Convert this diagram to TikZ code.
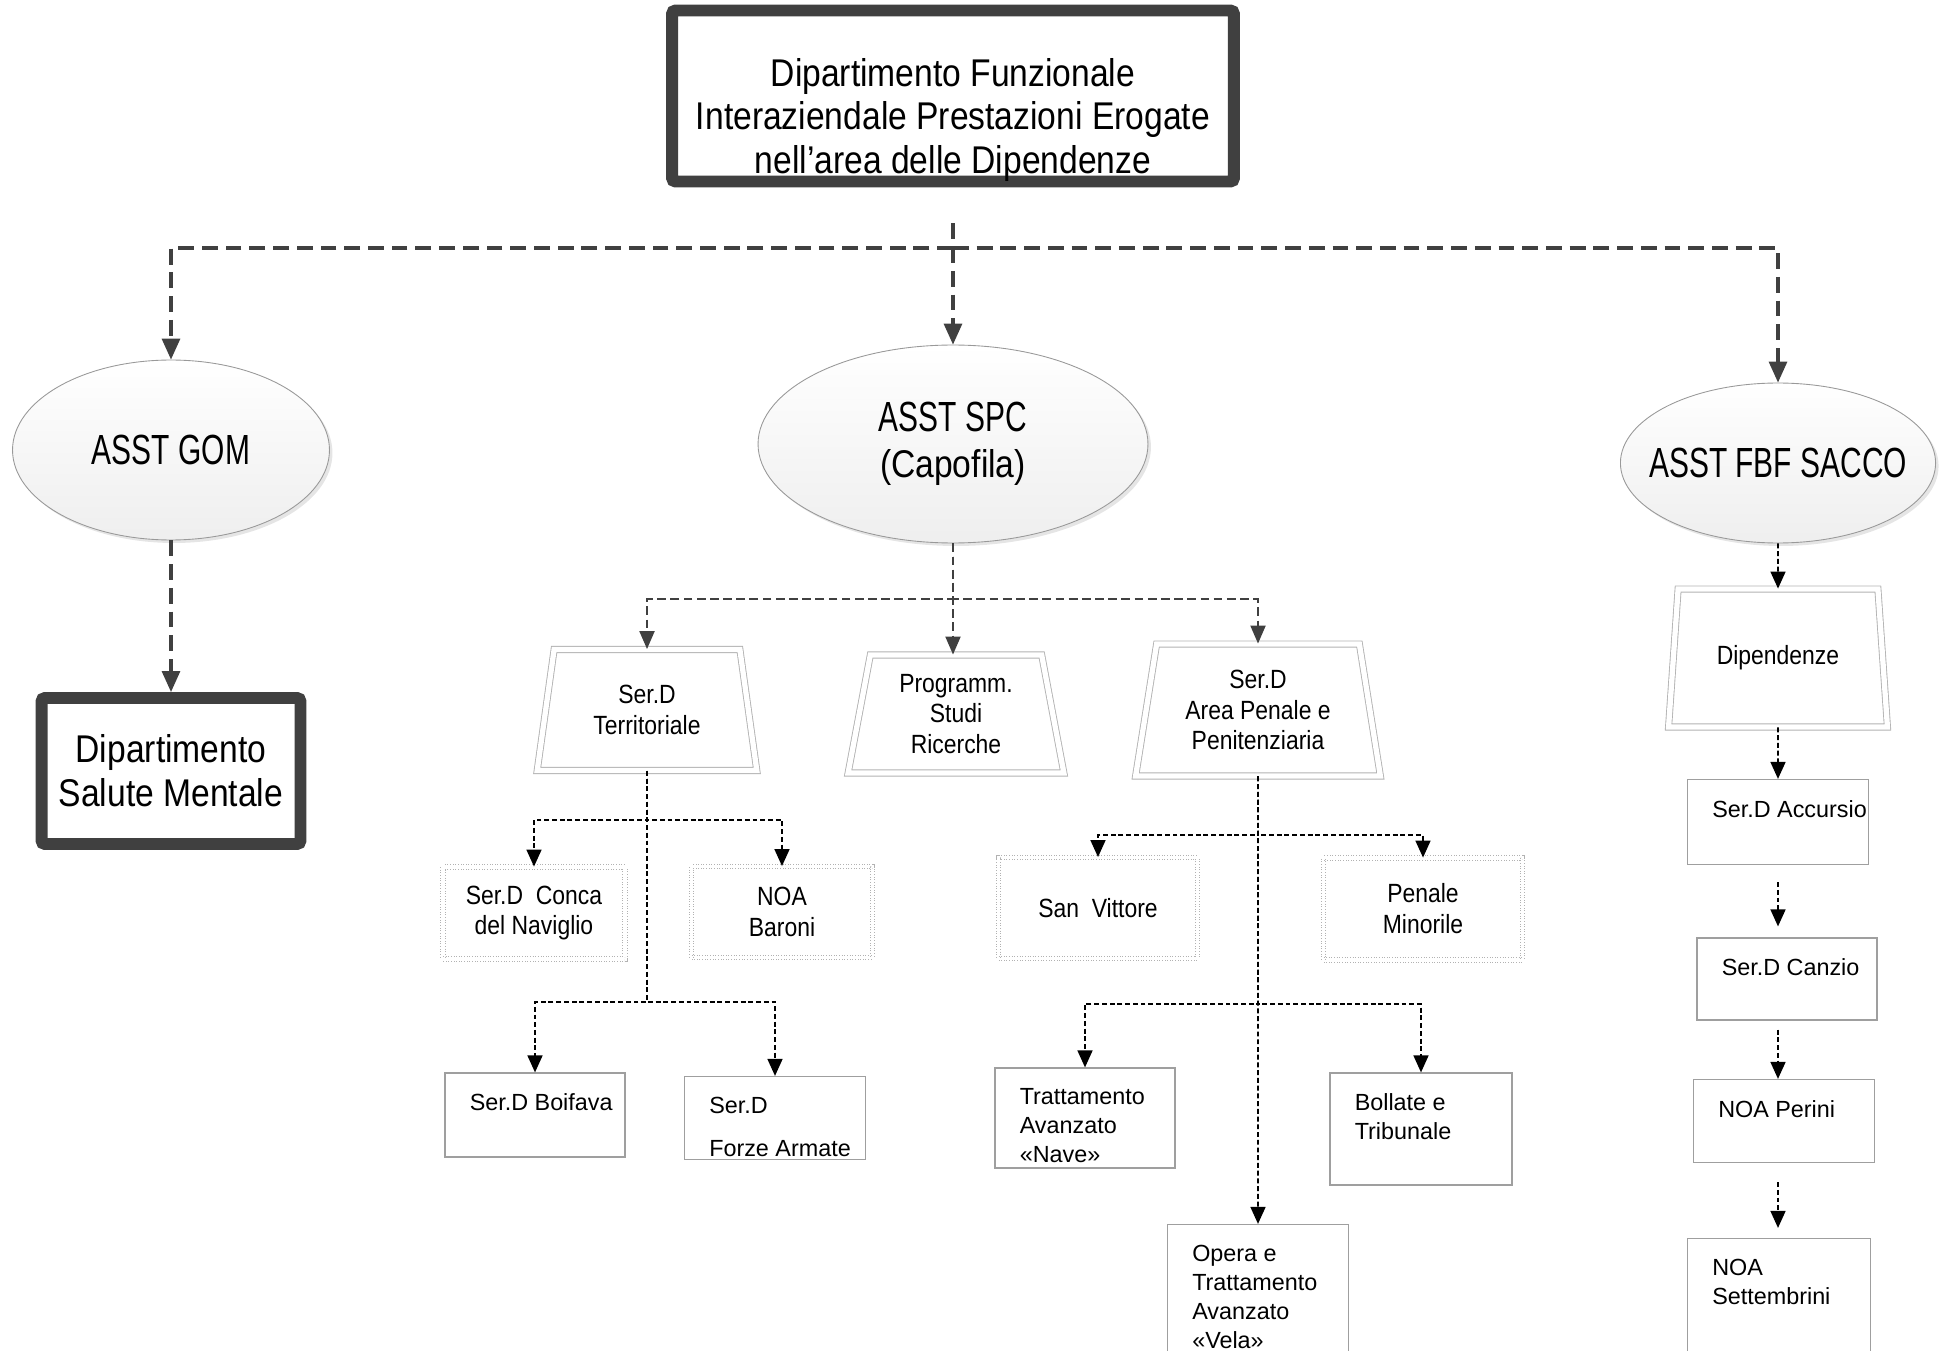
\documentclass[tikz,border=0pt]{standalone}
\usepackage{fontspec}
\setmainfont{Liberation Sans}
\newfontfamily\narrowsf{Liberation Sans}[FakeStretch=0.87]
\newfontfamily\squeezesf{Liberation Sans}[FakeStretch=0.71]
\usepackage{tikz}
\usetikzlibrary{shapes,shapes.geometric,arrows.meta,shadows}
\definecolor{edge}{rgb}{0.25, 0.25, 0.25}
\tikzstyle{headbox}=[draw=edge,line width=6.8pt,rounded corners=2pt,fill=white]
\tikzstyle{oval}=[ellipse,draw=gray!80,line width=0.5pt,top color=white,bottom color=gray!13,drop shadow={shadow xshift=0.06cm,shadow yshift=-0.06cm,fill=gray!40,opacity=0.5},font=\fontsize{24}{26}\squeezesf,align=center,inner sep=0pt]
\tikzstyle{trap}=[trapezium,trapezium left angle=80,trapezium right angle=80,trapezium stretches=true,draw=gray!60,line width=0.5pt,double=white,double distance=3pt,font=\fontsize{15}{17.6}\narrowsf,align=center]
\tikzstyle{dotbox}=[rectangle,draw=gray!60,densely dotted,line width=0.5pt,double=white,double distance=2pt,font=\fontsize{15}{17.6}\narrowsf,align=center]
\tikzstyle{leaf}=[rectangle,draw=gray!75,line width=0.7pt]
\tikzstyle{leaftxt}=[anchor=north west,inner sep=0pt,align=left,font=\fontsize{13.3}{16.5}\selectfont]
\tikzstyle{link}=[draw=edge,line width=1.8pt,dash pattern=on 9pt off 4.5pt,-{Triangle[length=0.42cm,width=0.36cm]}]
\tikzstyle{midlink}=[draw=edge,line width=1.2pt,dash pattern=on 5pt off 2.5pt,-{Triangle[length=0.36cm,width=0.3cm]}]
\tikzstyle{sublink}=[draw=black,line width=0.9pt,dash pattern=on 2.8pt off 1.6pt,-{Triangle[length=0.34cm,width=0.3cm]}]
\begin{document}
\begin{tikzpicture}[x=0.02cm,y=-0.02cm]
\useasboundingbox (0,0) rectangle (1948,1351);
% top level
\node[headbox,minimum width=11.24cm,minimum height=3.42cm] (top) at (953,96) {};
\node[font=\fontsize{22}{25}\narrowsf,align=center] (title) at (953,120) {Dipartimento Funzionale\\Interaziendale Prestazioni Erogate\\nell’area delle Dipendenze};
\node[oval,minimum width=6.34cm,minimum height=3.6cm] (gom) at (171,450) {ASST GOM};
\node[oval,minimum width=7.8cm,minimum height=3.96cm] (spc) at (953,444) {ASST SPC\\{\fontsize{22}{26}\narrowsf (Capofila)}};
\node[oval,minimum width=6.3cm,minimum height=3.2cm,inner xsep=-0.35cm] (fbf) at (1778,463) {ASST FBF SACCO};
\node[headbox,minimum width=5.18cm,minimum height=2.92cm,font=\fontsize{22}{25}\narrowsf,align=center] (dsm) at (171,771) {Dipartimento\\Salute Mentale};
% trapezi
\node[trap,minimum width=4.4cm,minimum height=2.42cm] (terr) at (647,710) {Ser.D\\Territoriale};
\node[trap,minimum width=4.34cm,minimum height=2.36cm] (prog) at (956,714) {Programm.\\Studi\\Ricerche};
\node[trap,minimum width=4.9cm,minimum height=2.64cm] (pen) at (1258,710) {Ser.D\\Area Penale e\\Penitenziaria};
\node[trap,minimum width=4.4cm,minimum height=2.76cm] (dip) at (1778,658) {Dipendenze};
% sedi
\node[dotbox,minimum width=3.64cm,minimum height=1.84cm] (conca) at (534,913) {Ser.D~ Conca\\del Naviglio};
\node[dotbox,minimum width=3.62cm,minimum height=1.82cm] (baroni) at (782,912) {NOA\\Baroni};
\node[dotbox,minimum width=3.98cm,minimum height=2.02cm] (vittore) at (1098,908) {San~ Vittore};
\node[dotbox,minimum width=3.98cm,minimum height=2.04cm] (minorile) at (1423,909) {Penale\\Minorile};
\node[leaf,minimum width=3.6cm,minimum height=1.68cm] (boifava) at (535,1115) {};
\node[leaftxt] (boifava-t) at ([shift={(0.5cm,-0.42cm)}]boifava.north west) {Ser.D Boifava};
\node[leaf,minimum width=3.62cm,minimum height=1.66cm] (forze) at (775,1118) {};
\node[leaftxt] (forze-t) at ([shift={(0.5cm,-0.42cm)}]forze.north west) {Ser.D\\[0.27cm]Forze Armate};
\node[leaf,minimum width=3.6cm,minimum height=2cm] (nave) at (1085,1118) {};
\node[leaftxt] (nave-t) at ([shift={(0.5cm,-0.42cm)}]nave.north west) {Trattamento\\Avanzato\\«Nave»};
\node[leaf,minimum width=3.64cm,minimum height=2.24cm] (bollate) at (1421,1129) {};
\node[leaftxt] (bollate-t) at ([shift={(0.5cm,-0.42cm)}]bollate.north west) {Bollate e\\Tribunale};
\node[leaf,minimum width=3.62cm,minimum height=3.5cm] (opera) at (1258,1312) {};
\node[leaftxt] (opera-t) at ([shift={(0.5cm,-0.42cm)}]opera.north west) {Opera e\\Trattamento\\Avanzato\\«Vela»};
\node[leaf,minimum width=3.62cm,minimum height=1.7cm] (accursio) at (1778,822) {};
\node[leaftxt] (accursio-t) at ([shift={(0.5cm,-0.42cm)}]accursio.north west) {Ser.D Accursio};
\node[leaf,minimum width=3.6cm,minimum height=1.64cm] (canzio) at (1787,979) {};
\node[leaftxt] (canzio-t) at ([shift={(0.5cm,-0.42cm)}]canzio.north west) {Ser.D Canzio};
\node[leaf,minimum width=3.62cm,minimum height=1.66cm] (perini) at (1784,1121) {};
\node[leaftxt] (perini-t) at ([shift={(0.5cm,-0.42cm)}]perini.north west) {NOA Perini};
\node[leaf,minimum width=3.66cm,minimum height=3.22cm] (sett) at (1779,1319) {};
\node[leaftxt] (sett-t) at ([shift={(0.5cm,-0.42cm)}]sett.north west) {NOA\\Settembrini};
% collegamenti
\draw[link,shorten <=0.72cm] (top.south) -- (spc.north);
\draw[link] (spc.north |- 0,248) -| (gom.north);
\draw[link] (spc.north |- 0,248) -| (fbf.north);
\draw[link] (gom.south) -- (dsm.north);
\draw[midlink] (spc.south) |- (terr.north |- 0,599) -- (terr.north);
\draw[midlink] (spc.south) -- (spc.south |- prog.north);
\draw[midlink] (spc.south) |- (pen.north |- 0,599) -- (pen.north);
\draw[sublink] (terr.south) |- (conca.north |- 0,820) -- (conca.north);
\draw[sublink] (terr.south) |- (baroni.north |- 0,820) -- (baroni.north);
\draw[sublink] (terr.south) |- (boifava.north |- 0,1002) -- (boifava.north);
\draw[sublink] (terr.south) |- (forze.north |- 0,1002) -- (forze.north);
\draw[sublink] (pen.south) -- (opera.north);
\draw[sublink] (pen.south) |- (vittore.north |- 0,835) -- (vittore.north);
\draw[sublink] (pen.south) |- (minorile.north |- 0,835) -- (minorile.north);
\draw[sublink] (pen.south) |- (nave.north |- 0,1004) -- (nave.north);
\draw[sublink] (pen.south) |- (bollate.north |- 0,1004) -- (bollate.north);
\draw[sublink] (fbf.south) -- (dip.north);
\draw[sublink] (dip.south) -- (accursio.north);
\draw[sublink,shorten <=0.34cm,shorten >=0.22cm] (accursio.south) -- (accursio.south |- canzio.north);
\draw[sublink,shorten <=0.18cm] (canzio.south -| accursio.south) -- (accursio.south |- perini.north);
\draw[sublink,shorten <=0.38cm,shorten >=0.2cm] (perini.south -| accursio.south) -- (accursio.south |- sett.north);
\end{tikzpicture}
\end{document}
